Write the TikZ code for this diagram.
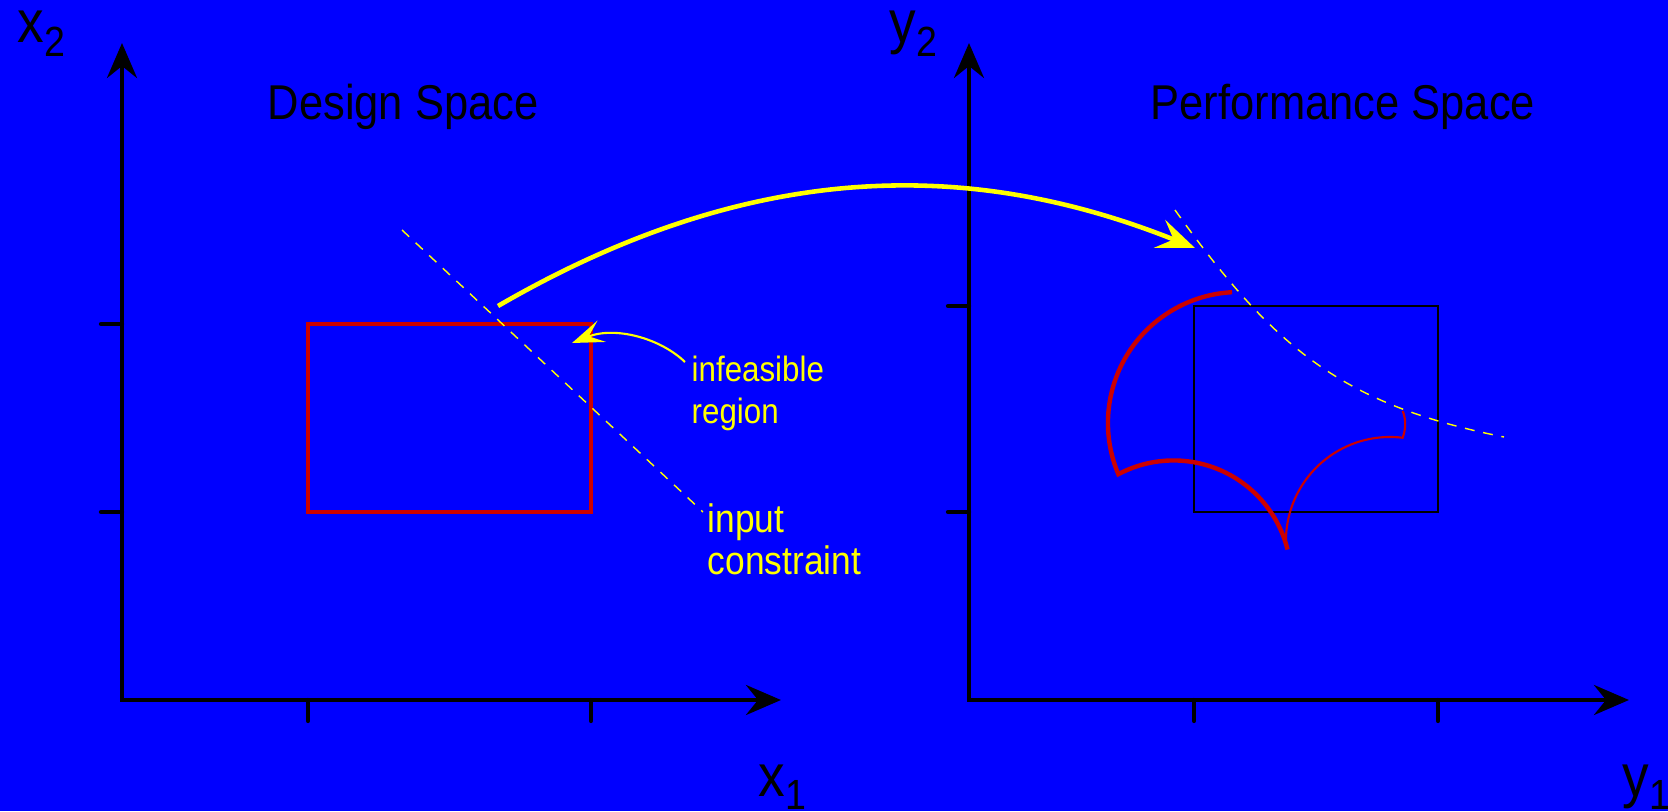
\documentclass[tikz,border=0pt]{standalone}
\usepackage{fontspec}
\setmainfont[FakeStretch=0.89]{Liberation Sans}
\usetikzlibrary{arrows.meta}

\definecolor{bgblue}{RGB}{0,0,255}
\definecolor{boxred}{RGB}{204,0,0}
\definecolor{mapyellow}{RGB}{255,255,0}

\newcommand{\axsub}[2]{{\fontsize{17}{20}\selectfont #1}\raisebox{-0.13cm}{\fontsize{12}{14}\selectfont #2}}

\tikzset{
  axtip/.tip={Stealth[length=0.35cm,width=0.3cm,inset=0.12cm]},
  axis/.style={line width=1.2pt, axtip-axtip},
  axtick/.style={line width=1.2pt, line cap=round},
  axlab/.style={anchor=base west, inner sep=0pt, text=black},
  titlelab/.style={anchor=base west, inner sep=0pt, text=black, font=\fontsize{13.9}{16}\selectfont},
  notelab/.style={anchor=north west, inner sep=0pt, align=left, text=mapyellow, font=\fontsize{10}{11.95}\selectfont},
  designbox/.style={draw=boxred, line width=1.2pt},
  perfbox/.style={draw=black, line width=0.75pt},
  constraint/.style={draw=mapyellow, line width=0.4pt, dash pattern=on 2.8pt off 2.5pt},
  imgthick/.style={draw=boxred, line width=1.25pt},
  imgthin/.style={draw=boxred, line width=0.6pt},
  maparrow/.style={draw=mapyellow, line width=1.3pt, -{Stealth[length=0.38cm,width=0.3cm,inset=0.15cm]}},
  notearrow/.style={draw=mapyellow, line width=0.6pt, -{Stealth[length=0.32cm,width=0.23cm,inset=0.14cm]}}
}

\begin{document}
\begin{tikzpicture}[x=0.01cm,y=0.01cm]
\fill[bgblue] (0,0) rectangle (1668,811);
\useasboundingbox (0,0) rectangle (1668,811);

% design space
\coordinate (O1) at (122,111);
\draw[axis] (122,768) -- (O1) -- (781,111);
\foreach \tx in {308,591} \draw[axtick] (\tx,111) -- (\tx,90);
\foreach \ty in {299,487} \draw[axtick] (122,\ty) -- (101,\ty);
\draw[designbox] (308,299) rectangle (591,487);
\draw[constraint] (402,581) -- (703,299);

% performance space
\coordinate (O2) at (969,111);
\draw[axis] (969,768) -- (O2) -- (1629,111);
\foreach \tx in {1194,1438} \draw[axtick] (\tx,111) -- (\tx,90);
\foreach \ty in {299,505} \draw[axtick] (969,\ty) -- (948,\ty);
\draw[perfbox] (1194,299) rectangle (1438,505);
\draw[constraint] (1175,601) .. controls (1275,461) and (1344,406) .. (1504,374);
\draw[imgthick] (1232.1,518.8) arc[start angle=93,end angle=203,radius=131]
  arc[start angle=118,end angle=14,radius=117.5];
\draw[imgthin] (1286,266.4) arc[start angle=182,end angle=83,radius=104]
  .. controls (1406,382) and (1406,392) .. (1402.7,400);

% labels
\node[axlab] (x2lab) at (17,768) {\axsub{x}{2}};
\node[axlab] (x1lab) at (758,15) {\axsub{x}{1}};
\node[axlab] (y2lab) at (889,768) {\axsub{y}{2}};
\node[axlab] (y1lab) at (1622,15) {\axsub{y}{1}};
\node[titlelab] (dsTitle) at (267,692) {Design Space};
\node[titlelab] (psTitle) at (1150,692) {Performance Space};
\node[notelab] (infeas) at (691,456) {infeasible\\region};
\node[notelab, font=\fontsize{11.3}{11.95}\selectfont] (inCons) at (707,308) {input\\constraint};

% mapping
\coordinate (mapFrom) at (498,505);
\coordinate (mapTo) at (1195,563);
\coordinate (infeasTip) at (572,468);
\draw[maparrow] (mapFrom) .. controls (760,657) and (980,649) .. (mapTo);
\draw[notearrow] ([shift={(-6,-7)}]infeas.north west) .. controls (660,473) and (615,485) .. (infeasTip);
\end{tikzpicture}
\end{document}
